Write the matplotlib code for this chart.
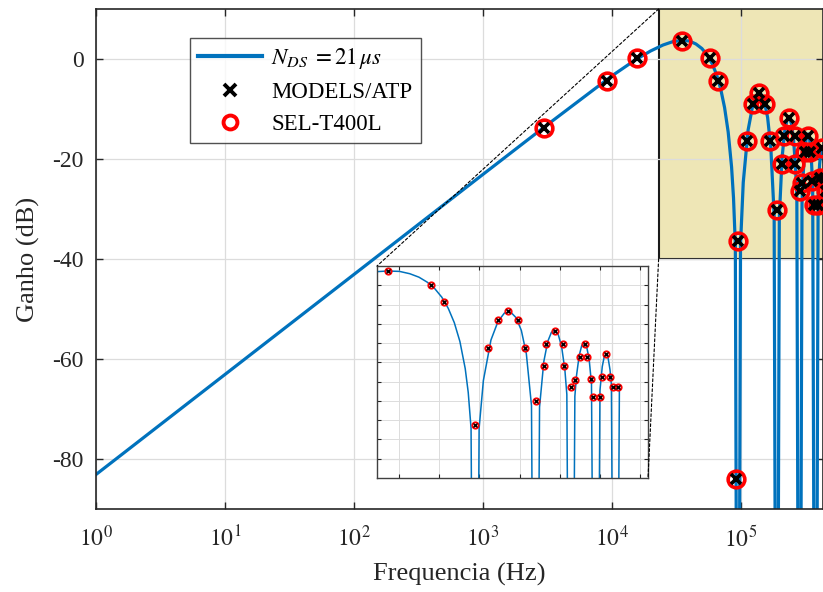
import matplotlib
matplotlib.use("Agg")
import matplotlib.pyplot as plt
from matplotlib.patches import Rectangle, ConnectionPatch
from matplotlib.lines import Line2D

plt.rcParams['font.family'] = ['Liberation Serif', 'DejaVu Serif']
plt.rcParams['mathtext.fontset'] = 'stix'
plt.rcParams['axes.unicode_minus'] = False

# resposta do filtro DS
freq = [1, 10, 100, 1000, 3000, 10000, 15000, 20000, 25000, 30000, 35000,
        40000, 45000, 50000, 55000, 60000, 65000, 70000, 75000, 80000, 85000,
        88000, 90900, 95200, 99700,
        104700, 114200, 123800, 133300, 142800, 152300, 161800, 171400,
        181800, 190400, 199400,
        209400, 219000, 228500, 238000, 247500, 257000, 266600, 272700,
        285600, 299000,
        304600, 314200, 323700, 333200, 342700, 352200, 361800, 380800,
        398700,
        409400, 418900, 428400, 437900, 447400, 454600, 476000, 498400]
ganho = [-83.1, -63.1, -43.1, -23.1, -13.6, -3.4, -0.3, 1.6, 2.8, 3.5, 3.7,
         3.6, 3.0, 2.1, 0.8, -0.9, -3.1, -6.0, -9.7, -14.6, -21.6,
         -27.8, -37.1, -200, -37.1,
         -24.7, -14.2, -9.4, -7.2, -6.9, -8.4, -11.7, -17.8,
         -31.2, -200, -31.6,
         -19.8, -14.6, -12.2, -11.7, -12.9, -16.0, -21.9, -28.3,
         -200, -28.8,
         -23.5, -18.2, -15.6, -15.0, -16.1, -19.2, -25.5, -200,
         -27.3,
         -21.1, -18.5, -17.8, -18.9, -21.9, -25.8, -200, -26.0]

# pontos medidos
f_med = [3000, 9150, 15600, 35200, 57500, 66400, 92000, 94900,
         111000, 124000, 139000, 155000, 168000,
         190400, 209000, 215000, 238000, 262000, 265000,
         286000, 300000, 317000, 334000, 345000, 360000,
         369000, 397000, 410000, 427600, 448000, 462000, 492000]
g_models = [-13.7, -4.4, 0.2, 3.7, 0.2, -4.4, -84.0, -36.3,
            -16.4, -9.0, -6.8, -9.0, -16.4,
            -30.1, -21.0, -15.3, -11.8, -15.3, -21.0,
            -26.3, -24.7, -18.5, -15.3, -18.5, -24.3,
            -29.1, -29.1, -23.8, -17.8, -23.8, -26.4, -26.4]
g_sel = list(g_models)

fig = plt.figure(figsize=(8.23, 5.92), dpi=100)
ax = fig.add_axes([96/823, 1-509/592, 1-96/823, 500/592])

azul = '#0072BD'
cinza = '#262626'
ax.add_patch(Rectangle((2.31e4, -40), 1e6, 60, facecolor='#EEE6B6',
                       edgecolor='#1a1a1a', lw=1.5, zorder=0.4))
ax.plot(freq, ganho, color=azul, lw=2.3, zorder=2)
ax.plot(f_med, g_sel, 'o', ms=12, mfc='none', mec='red', mew=2.6, zorder=3)
ax.plot(f_med, g_models, 'x', ms=6.5, color='black', mew=2.6, zorder=4)

ax.set_xscale('log')
ax.set_xlim(1, 4.35e5)
ax.set_ylim(-90, 10)
ax.set_xticks([1, 10, 100, 1e3, 1e4, 1e5])
ax.set_xticklabels([r'$10^{%d}$' % i for i in range(6)])
ax.minorticks_off()
ax.set_yticks([-80, -60, -40, -20, 0])
ax.tick_params(direction='in', length=5, width=1, top=True, right=True,
               labelsize=17, colors=cinza)
ax.tick_params(axis='x', pad=12)
ax.tick_params(axis='y', pad=9)
ax.grid(True, color='#dcdcdc', lw=0.9)
ax.set_axisbelow(True)
for s in ax.spines.values():
    s.set_color(cinza)
    s.set_linewidth(1.2)
ax.set_xlabel('Frequencia (Hz)', fontsize=19, color=cinza, labelpad=8)
ax.set_ylabel('Ganho (dB)', fontsize=19, color=cinza, labelpad=9)

hs = [Line2D([], [], color=azul, lw=3),
      Line2D([], [], ls='none', marker='x', color='black', ms=8, mew=2.8),
      Line2D([], [], ls='none', marker='o', mfc='none', mec='red', ms=10, mew=2.8)]
leg = ax.legend(hs, [r'$N_{DS}\;=21\,\mu s$', 'MODELS/ATP', 'SEL-T400L'],
                loc='upper left', bbox_to_anchor=(190/823, 1-38/592),
                bbox_transform=fig.transFigure, fontsize=16.5, frameon=True,
                fancybox=False, edgecolor=cinza, handlelength=2.8,
                handletextpad=0.4, borderpad=0.35, labelspacing=0.48,
                borderaxespad=0)
leg.get_frame().set_linewidth(1.0)

# zoom
ins = fig.add_axes([377/823, 1-478/592, 271/823, 212/592])
ins.patch.set_alpha(0)
ins.plot(freq, ganho, color=azul, lw=1.1)
ins.plot(f_med, g_sel, 'o', ms=4.5, mfc='none', mec='red', mew=1.4)
ins.plot(f_med, g_models, 'x', ms=2.5, color='black', mew=1.0)
ins.set_xscale('log')
ins.set_xlim(10**4.49, 10**5.84)
ins.set_ylim(-50, 5)
ins.set_xticks([10**4.6, 10**4.8, 10**5.0, 10**5.2, 10**5.4, 10**5.6, 10**5.8])
ins.minorticks_off()
ins.set_yticks(range(-45, 5, 5))
ins.set_xticklabels([])
ins.set_yticklabels([])
ins.tick_params(direction='in', length=3, width=0.8, top=True, right=True,
                colors=cinza)
ins.grid(True, color='#dcdcdc', lw=0.7)
for s in ins.spines.values():
    s.set_color('#404040')
    s.set_linewidth(1.0)

for p_main, p_ins in [((2.31e4, 10), (10**4.49, 5)), ((2.31e4, -40), (10**5.84, -50))]:
    con = ConnectionPatch(xyA=p_main, coordsA=ax.transData, xyB=p_ins,
                          coordsB=ins.transData, color='black', lw=0.8,
                          linestyle=(0, (2.5, 2)))
    fig.add_artist(con)

fig.savefig('out.png', dpi=100)
